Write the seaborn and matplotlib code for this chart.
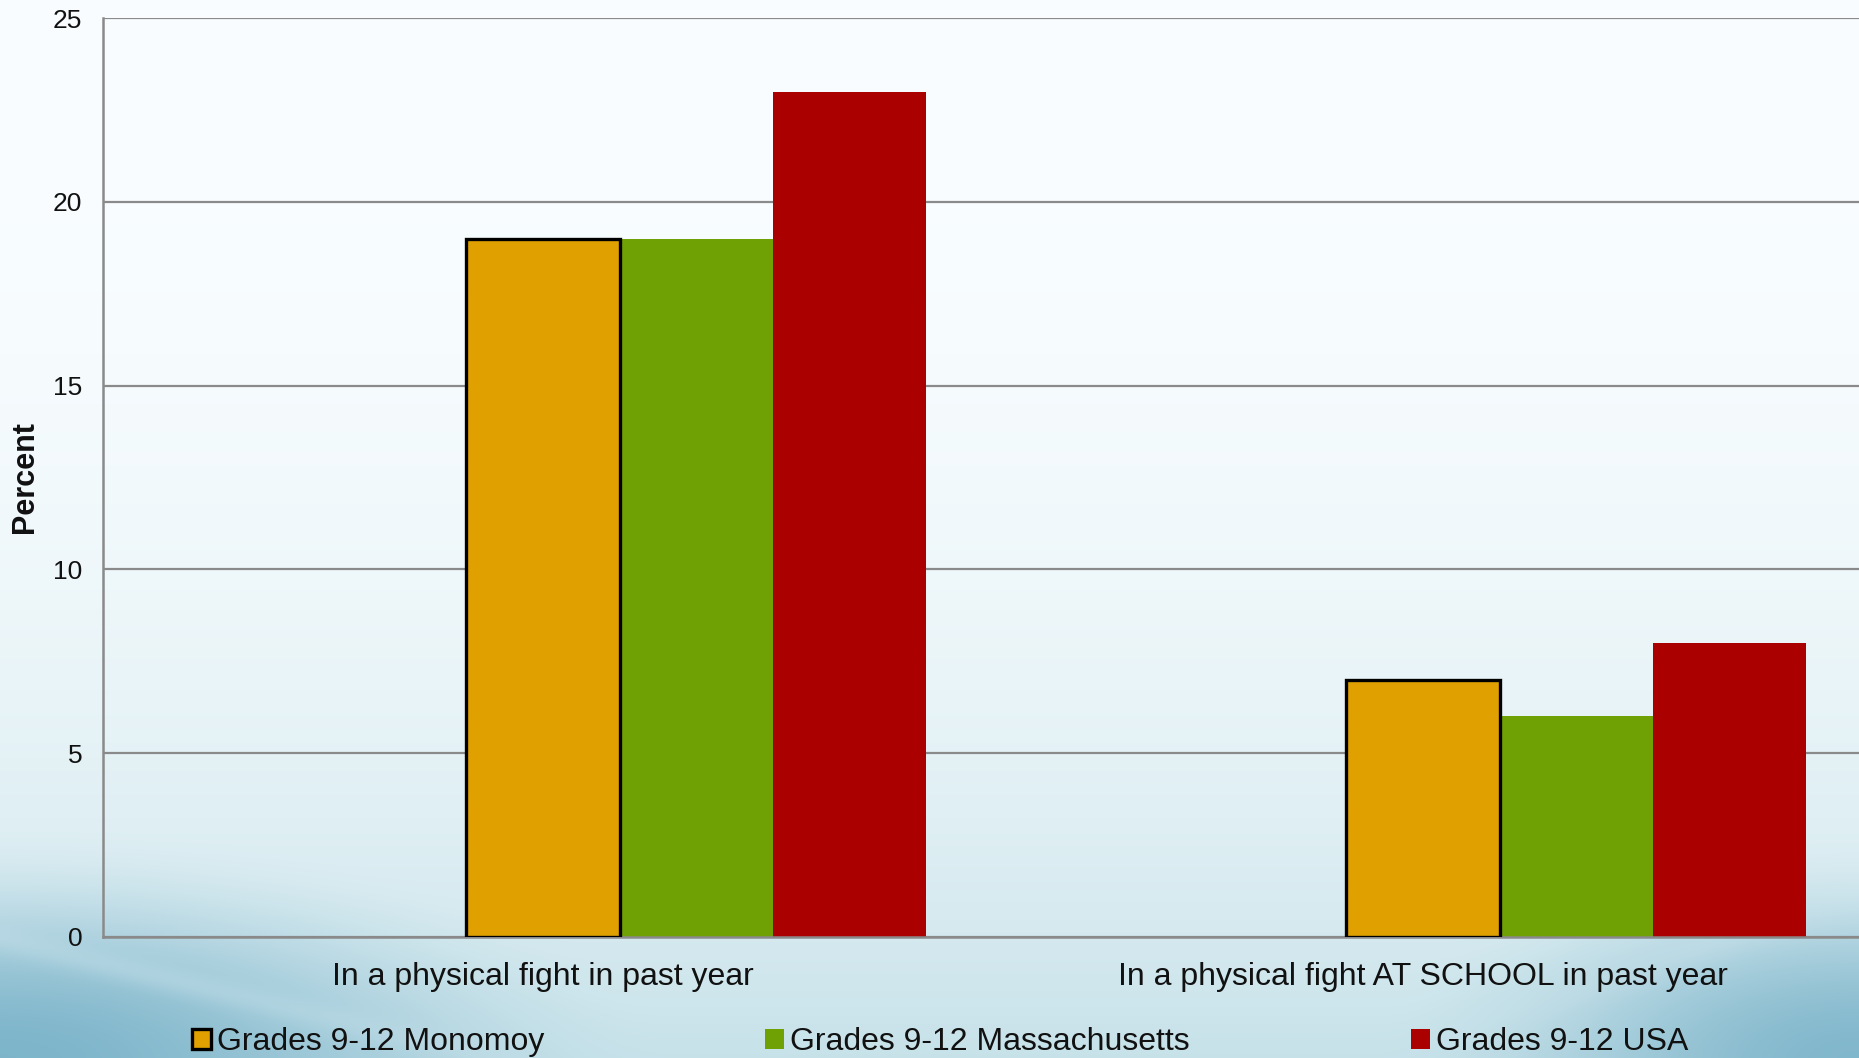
import numpy as np
import pandas as pd
import matplotlib
matplotlib.use("Agg")
import matplotlib.pyplot as plt
from matplotlib.patches import Patch
from matplotlib.colors import to_rgb
import seaborn as sns

# ---- data -------------------------------------------------------------
categories = ["In a physical fight in past year",
              "In a physical fight AT SCHOOL in past year"]
series = ["Grades 9-12 Monomoy", "Grades 9-12 Massachusetts", "Grades 9-12 USA"]
monomoy = [19, 7]
massachusetts = [19, 6]
usa = [23, 8]
y_ticks = [0, 5, 10, 15, 20, 25]

colors = ["#E0A000", "#6FA104", "#AA0000"]
# two unused leading slots keep the category label under the first bar
slots = ["slot_a", "slot_b"] + series

df = pd.DataFrame({
    "category": categories * 3,
    "series": [s for s in series for _ in categories],
    "percent": monomoy + massachusetts + usa,
})

sns.set_style("white")
plt.rcParams["font.family"] = ["Liberation Sans", "DejaVu Sans"]

W, H = 1859, 1058
fig = plt.figure(figsize=(W / 100, H / 100), dpi=100)

# ---- background wash --------------------------------------------------
yy, xx = np.mgrid[0:H, 0:W].astype(float)
t = (yy / H) ** 2.6
top = np.array([0.976, 0.992, 0.999])
bottom = np.array([0.78, 0.885, 0.915])
img = top * (1 - t[..., None]) + bottom * t[..., None]


def smooth(v):
    v = np.clip(v, 0, 1)
    return v * v * (3 - 2 * v)


teal = np.array([0.46, 0.69, 0.78])
dl = smooth(1 - np.sqrt((xx / (0.36 * W)) ** 2 + ((H - yy) / (0.22 * H)) ** 2))
dr = smooth(1 - np.sqrt(((W - xx) / (0.26 * W)) ** 2 + ((H - yy) / (0.21 * H)) ** 2))
d = np.clip(0.9 * dl + 0.85 * dr, 0, 1)
img = img * (1 - d[..., None]) + teal * d[..., None]
# faint light streaks sweeping through the lower corners
streak_l = np.exp(-((yy - (H - 120 + 0.24 * xx)) / 14) ** 2) * (xx < 520) * dl
streak_r = np.exp(-((yy - (H - 40 - 0.35 * (xx - 1500))) / 18) ** 2) * (xx > 1450) * dr
s = np.clip(0.35 * streak_l + 0.3 * streak_r, 0, 1)
img = img * (1 - s[..., None]) + np.array([0.9, 0.95, 0.97]) * s[..., None]

bg = fig.add_axes([0, 0, 1, 1], zorder=-10)
bg.imshow(img, aspect="auto", extent=[0, 1, 0, 1], interpolation="bilinear")
bg.axis("off")

# ---- bars -------------------------------------------------------------
ax = fig.add_axes([103 / W, 1 - 937 / H, 1760 / W, 919 / H])
ax.set_facecolor("none")
sns.barplot(data=df, x="category", y="percent", hue="series",
            order=categories, hue_order=slots,
            palette=["#ffffff", "#ffffff"] + colors,
            width=0.87, saturation=1, linewidth=0, legend=False, ax=ax)

# Monomoy bars carry a black outline
outline_rgb = to_rgb(colors[0])
for bar in ax.patches:
    if np.allclose(bar.get_facecolor()[:3], outline_rgb, atol=0.01):
        bar.set_edgecolor("black")
        bar.set_linewidth(2.4)
        bar.set_zorder(3)

ax.set_xlim(-0.5, 1.5)
ax.set_ylim(0, 25)
ax.set_yticks(y_ticks)
ax.set_axisbelow(True)
ax.yaxis.grid(True, color="#8a8a8a", linewidth=1.6)
ax.xaxis.grid(False)
for side in ["top", "right"]:
    ax.spines[side].set_visible(False)
for side in ["left", "bottom"]:
    ax.spines[side].set_color("#8a8a8a")
    ax.spines[side].set_linewidth(1.8)

ax.tick_params(axis="y", length=0, pad=15, labelsize=19, labelcolor="#111111")
ax.tick_params(axis="x", length=0, pad=18, labelsize=23, labelcolor="#111111")
ax.set_xlabel("")
ax.set_ylabel("Percent", fontsize=22, fontweight="bold", color="#111111", va="center")
ax.yaxis.set_label_coords(-0.0443, 0.5)

# ---- legend -----------------------------------------------------------
handles = [Patch(facecolor=colors[0], edgecolor="black", linewidth=2.4, label=series[0]),
           Patch(facecolor=colors[1], edgecolor="none", label=series[1]),
           Patch(facecolor=colors[2], edgecolor="none", label=series[2])]
fig.legend(handles=handles, loc="center", bbox_to_anchor=(940 / W, 1 - 1042 / H),
           ncol=3, frameon=False, prop={"size": 23},
           handlelength=0.6, handleheight=0.6, handletextpad=0.2,
           columnspacing=6.9, borderpad=0, labelcolor="#111111")

fig.savefig("out.png", dpi=100)
